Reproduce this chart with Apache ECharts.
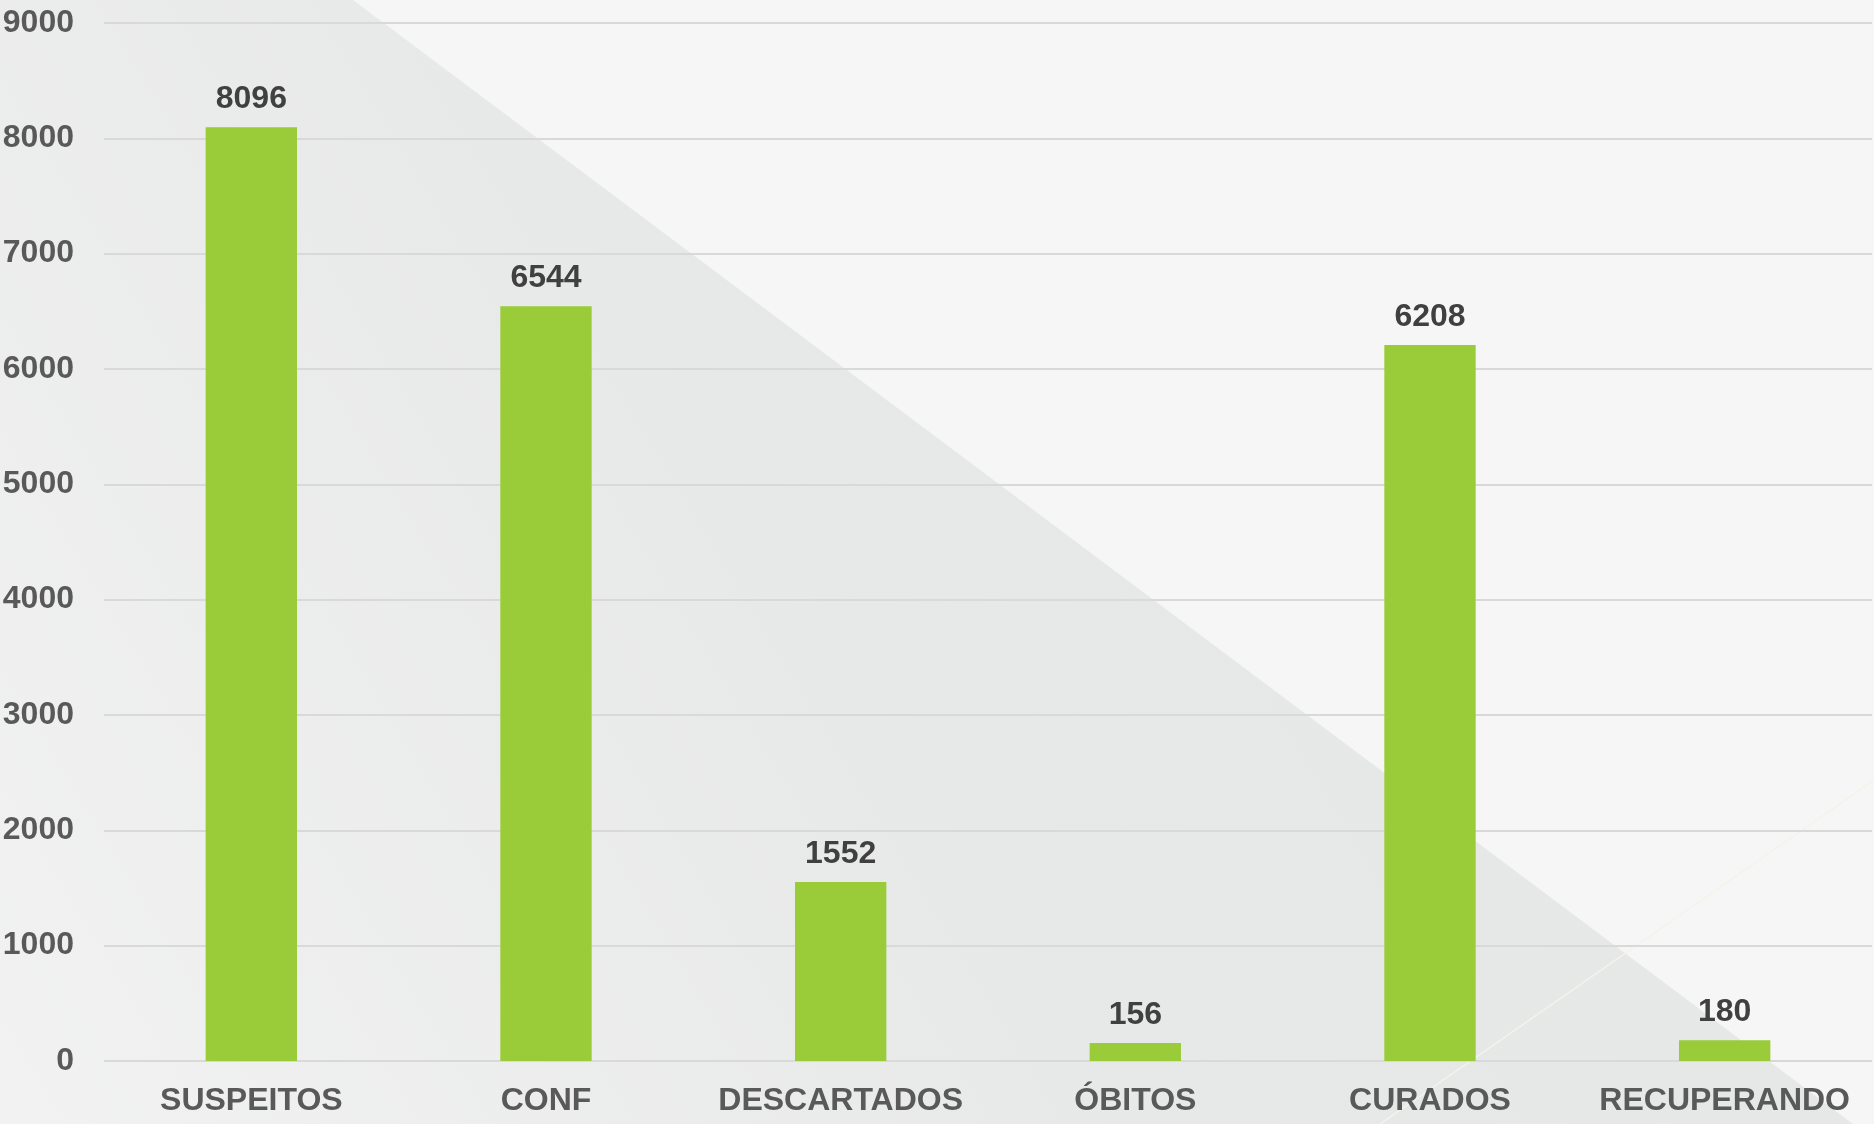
<!DOCTYPE html>
<html>
<head>
<meta charset="utf-8">
<script src="https://cdn.jsdelivr.net/npm/echarts@6/dist/echarts.min.js"></script>
<style>
  html, body { margin: 0; padding: 0; background: #f6f6f6; }
  #main { width: 1874px; height: 1124px; }
</style>
</head>
<body>
<div id="main"></div>
<script>
// categorias e valores
var categorias = ['SUSPEITOS', 'CONF', 'DESCARTADOS', 'ÓBITOS', 'CURADOS', 'RECUPERANDO']
var valores = [8096, 6544, 1552, 156, 6208, 180]
var yMin = 0
var yMax = 9000
var yStep = 1000

var chart = echarts.init(document.getElementById('main'))

chart.setOption({
  backgroundColor: '#f6f6f6',
  animation: false,
  textStyle: { fontFamily: 'Liberation Sans, Arial, sans-serif' },
  // fundo: triangulo cinza atras do grafico
  graphic: [
    {
      type: 'polygon',
      silent: true,
      z: -10,
      shape: { points: [[0, 0], [353, 0], [1853, 1124], [0, 1124]] },
      style: {
        fill: new echarts.graphic.LinearGradient(0, 1, 1, 0, [
          { offset: 0, color: '#f1f2f1' },
          { offset: 0.45, color: '#e7e9e8' },
          { offset: 1, color: '#e5e7e6' }
        ])
      }
    },
    {
      type: 'line',
      silent: true,
      z: -9,
      shape: { x1: 1380, y1: 1124, x2: 1874, y2: 780 },
      style: { stroke: '#f4f3ea', lineWidth: 1.5 }
    }
  ],
  grid: {
    left: 104,
    right: 2,
    top: 23,
    bottom: 63,
    containLabel: false,
    outerBoundsMode: 'none'
  },
  xAxis: {
    type: 'category',
    data: categorias,
    axisLine: { show: false },
    axisTick: { show: false },
    axisLabel: {
      color: '#595959',
      fontSize: 32,
      fontWeight: 'bold',
      margin: 24,
      interval: 0
    }
  },
  yAxis: {
    type: 'value',
    min: yMin,
    max: yMax,
    interval: yStep,
    axisLine: { show: false },
    axisTick: { show: false },
    axisLabel: {
      color: '#595959',
      fontSize: 32,
      fontWeight: 'bold',
      margin: 30,
      formatter: function (v) { return String(v) }
    },
    splitLine: {
      lineStyle: { color: '#d9d9d9', width: 2 }
    }
  },
  series: [
    {
      type: 'bar',
      data: valores,
      barWidth: '31%',
      itemStyle: { color: '#9acb38' },
      label: {
        show: true,
        position: 'top',
        distance: 12,
        color: '#404040',
        fontSize: 32,
        fontWeight: 'bold'
      }
    }
  ]
})
</script>
</body>
</html>
